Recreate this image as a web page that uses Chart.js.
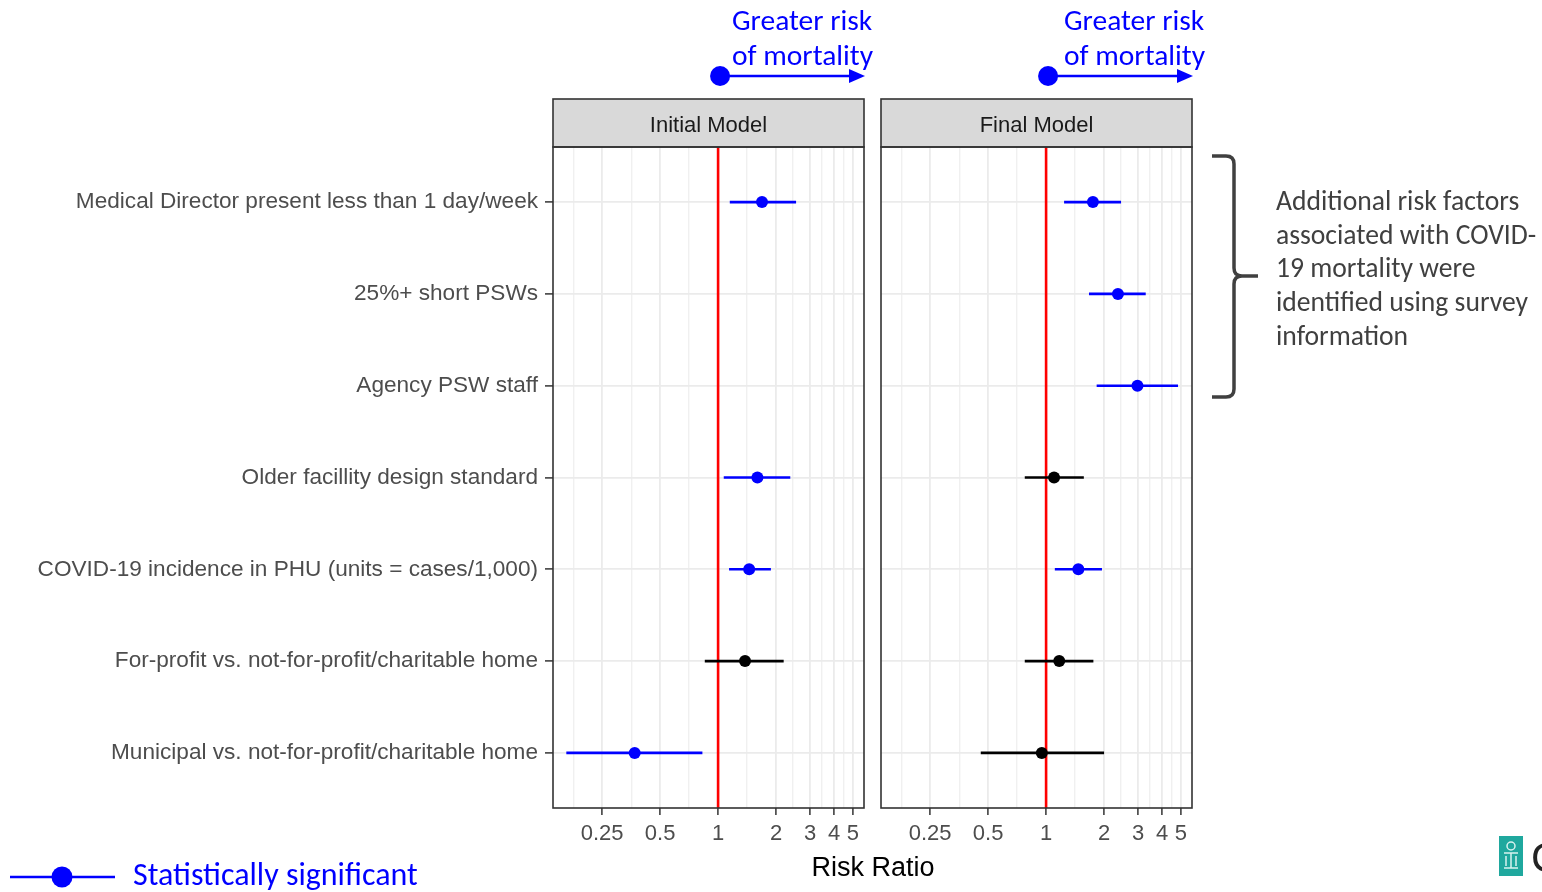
<!DOCTYPE html>
<html>
<head>
<meta charset="utf-8">
<script src="https://cdn.jsdelivr.net/npm/chart.js@4.4.1/dist/chart.umd.min.js"></script>
<style>
    body { margin: 0; background: #fff; width: 1542px; height: 892px; overflow: hidden; position: relative; }
    canvas { position: absolute; left: 0; top: 0; }
    .calibri { font-family: Carlito, Lato, "Open Sans", sans-serif; position: absolute; white-space: nowrap; }
    .risk { color: #0000ff; font-size: 29.5px; line-height: 35px; top: 3px; }
    .side { left: 1276px; top: 184px; color: #404040; font-size: 27.6px; line-height: 33.7px; }
    .legend { left: 133px; top: 856px; color: #0000ff; font-size: 32px; line-height: 38px; }
    .xtitle { position: absolute; left: 773px; width: 200px; top: 852px; text-align: center;
              font-family: "Liberation Sans", Arial, sans-serif; font-size: 27px; color: #000; }
    svg { position: absolute; left: 0; top: 0; }
</style>
</head>
<body>
<canvas id="initialChart" width="1542" height="892"></canvas>
<canvas id="finalChart" width="1542" height="892"></canvas>

<div class="calibri risk" style="left:732px">Greater risk<br>of mortality</div>
<div class="calibri risk" style="left:1064px">Greater risk<br>of mortality</div>
<div class="calibri side">Additional risk factors<br>associated with COVID-<br>19 mortality were<br>identified using survey<br>information</div>
<div class="calibri legend">Statistically significant</div>
<div class="xtitle">Risk Ratio</div>

<svg width="1542" height="892">
    <!-- brace next to the survey-based factors -->
    <path d="M1212,156 L1226,156 Q1234,156 1234,164 L1234,268 Q1234,276 1242,276 L1258,276 M1242,276 Q1234,276 1234,284 L1234,389 Q1234,397 1226,397 L1212,397"
          fill="none" stroke="#404040" stroke-width="3.5"/>
    <!-- legend key -->
    <line x1="10" y1="877" x2="115" y2="877" stroke="#0000ff" stroke-width="2.5"/>
    <circle cx="62" cy="877" r="10.5" fill="#0000ff"/>
    <!-- logo corner -->
    <rect x="1499" y="836" width="24" height="40" fill="#1fa89e"/>
    <circle cx="1511" cy="846" r="4" fill="none" stroke="#d8f2ef" stroke-width="1.5"/>
    <path d="M1504,853 L1518,853 M1511,853 L1511,868 M1504,868 L1518,868 M1506,856 L1506,866 M1516,856 L1516,866"
          fill="none" stroke="#d8f2ef" stroke-width="1.5"/>
    <text x="1531" y="872" font-family="Liberation Sans, Arial" font-size="42" fill="#222">C</text>
</svg>

<script>
const rowLabels = [
    'Medical Director present less than 1 day/week',
    '25%+ short PSWs',
    'Agency PSW staff',
    'Older facillity design standard',
    'COVID-19 incidence in PHU (units = cases/1,000)',
    'For-profit vs. not-for-profit/charitable home',
    'Municipal vs. not-for-profit/charitable home'
];

const panelTitles = ['Initial Model', 'Final Model'];

// risk ratios and 95% intervals
const initialRR   = [1.69, null, null, 1.60, 1.45, 1.38, 0.369];
const initialLow  = [1.15, null, null, 1.07, 1.14, 0.853, 0.163];
const initialHigh = [2.54, null, null, 2.37, 1.88, 2.19, 0.829];
const initialSig  = [true, null, null, true, true, false, true];

const finalRR   = [1.75, 2.36, 2.98, 1.10, 1.47, 1.17, 0.95];
const finalLow  = [1.24, 1.67, 1.83, 0.775, 1.11, 0.775, 0.458];
const finalHigh = [2.45, 3.29, 4.84, 1.57, 1.95, 1.76, 2.00];
const finalSig  = [true, true, true, false, true, false, false];

const xTickValues  = [0.25, 0.5, 1, 2, 3, 4, 5];
const xMinorValues = [0.177, 0.354, 0.707, 1.414, 2.449, 3.464, 4.472];
const xLimits = [0.139, 5.72];
const yLimits = [0.4, 7.6];
const refValue = [1];

const SIG_COLOR = '#0000ff';
const NONSIG_COLOR = '#000000';
const FONT_FAMILY = '"Liberation Sans", Arial, sans-serif';

const panelDecor = {
    id: 'panelDecor',
    beforeDraw(chart) {
        const { ctx, chartArea } = chart;
        const tb = chart.titleBlock;
        ctx.save();
        ctx.fillStyle = '#d9d9d9';
        ctx.fillRect(chartArea.left, tb.top, chartArea.width, tb.height);
        ctx.restore();
    },
    afterDraw(chart) {
        const { ctx, chartArea } = chart;
        const tb = chart.titleBlock;
        ctx.save();
        ctx.strokeStyle = '#333333';
        ctx.lineWidth = 1.6;
        ctx.strokeRect(chartArea.left, tb.top, chartArea.width, tb.height);
        ctx.strokeRect(chartArea.left, chartArea.top, chartArea.width, chartArea.height);

        // "greater risk" arrow, starting from RR = 1
        const x0 = chart.scales.x.getPixelForValue(refValue[0]) + 2;
        const y = chartArea.top - 71;
        const tip = chartArea.right + 1;
        ctx.strokeStyle = SIG_COLOR;
        ctx.fillStyle = SIG_COLOR;
        ctx.lineWidth = 2.5;
        ctx.beginPath();
        ctx.moveTo(x0, y);
        ctx.lineTo(tip - 12, y);
        ctx.stroke();
        ctx.beginPath();
        ctx.moveTo(tip, y);
        ctx.lineTo(tip - 16, y - 7);
        ctx.lineTo(tip - 16, y + 7);
        ctx.closePath();
        ctx.fill();
        ctx.beginPath();
        ctx.arc(x0, y, 10, 0, Math.PI * 2);
        ctx.fill();
        ctx.restore();
    }
};

function panelChart(canvasId, title, rr, low, high, sig, isLeft) {
    const datasets = [];

    // interval bars
    rr.forEach((v, i) => {
        if (v == null) return;
        datasets.push({
            type: 'line',
            data: [{ x: low[i], y: i + 1 }, { x: high[i], y: i + 1 }],
            borderColor: sig[i] ? SIG_COLOR : NONSIG_COLOR,
            borderWidth: 2.6,
            pointRadius: 0,
            order: 1
        });
    });

    // point estimates
    const idx = rr.map((v, i) => i).filter(i => rr[i] != null);
    datasets.push({
        type: 'scatter',
        data: idx.map(i => ({ x: rr[i], y: i + 1 })),
        pointBackgroundColor: idx.map(i => sig[i] ? SIG_COLOR : NONSIG_COLOR),
        pointBorderWidth: 0,
        pointRadius: 6,
        order: 0
    });

    // reference line at RR = 1
    datasets.push({
        type: 'line',
        data: [{ x: refValue[0], y: yLimits[0] }, { x: refValue[0], y: yLimits[1] }],
        borderColor: '#ff0000',
        borderWidth: 2.6,
        pointRadius: 0,
        order: 2
    });

    const isMajor = v => xTickValues.includes(v);

    return new Chart(document.getElementById(canvasId), {
        type: 'scatter',
        data: { datasets },
        plugins: [panelDecor],
        options: {
            responsive: false,
            animation: false,
            events: [],
            layout: { padding: { top: 99, right: isLeft ? 678 : 350, bottom: 0, left: 0 } },
            plugins: {
                legend: { display: false },
                tooltip: { enabled: false },
                title: {
                    display: true,
                    text: title,
                    fullSize: false,
                    color: '#1a1a1a',
                    font: { family: FONT_FAMILY, size: 22, weight: 'normal' },
                    padding: { top: 14, bottom: 7.6 }
                }
            },
            scales: {
                x: {
                    type: 'logarithmic',
                    min: xLimits[0],
                    max: xLimits[1],
                    afterBuildTicks: s => {
                        s.ticks = [...xMinorValues, ...xTickValues].sort((a, b) => a - b).map(v => ({ value: v }));
                    },
                    afterFit: s => { s.height = 84; },
                    border: { display: false },
                    grid: {
                        color: c => isMajor(c.tick && c.tick.value) ? '#ebebeb' : '#f0f0f0',
                        lineWidth: c => isMajor(c.tick && c.tick.value) ? 1.8 : 1.4,
                        tickLength: 7,
                        tickWidth: 1.5,
                        tickColor: c => isMajor(c.tick && c.tick.value) ? '#333333' : 'rgba(0,0,0,0)'
                    },
                    ticks: {
                        autoSkip: false,
                        maxRotation: 0,
                        padding: 6,
                        color: '#4d4d4d',
                        font: { family: FONT_FAMILY, size: 22 },
                        callback: v => isMajor(v) ? String(v) : ''
                    }
                },
                y: {
                    type: 'linear',
                    reverse: true,
                    min: yLimits[0],
                    max: yLimits[1],
                    afterBuildTicks: s => {
                        s.ticks = rowLabels.map((_, i) => ({ value: i + 1 }));
                    },
                    afterFit: s => { s.width = isLeft ? 553 : 881; },
                    border: { display: false },
                    grid: {
                        color: '#ebebeb',
                        lineWidth: 1.8,
                        drawTicks: isLeft,
                        tickLength: 8,
                        tickWidth: 1.5,
                        tickColor: '#333333'
                    },
                    ticks: {
                        display: isLeft,
                        autoSkip: false,
                        padding: 7,
                        color: '#4d4d4d',
                        font: { family: FONT_FAMILY, size: 22.6 },
                        callback: v => rowLabels[v - 1]
                    }
                }
            }
        }
    });
}

window.onload = () => {
    panelChart('initialChart', panelTitles[0], initialRR, initialLow, initialHigh, initialSig, true);
    panelChart('finalChart', panelTitles[1], finalRR, finalLow, finalHigh, finalSig, false);
};
</script>
</body>
</html>
